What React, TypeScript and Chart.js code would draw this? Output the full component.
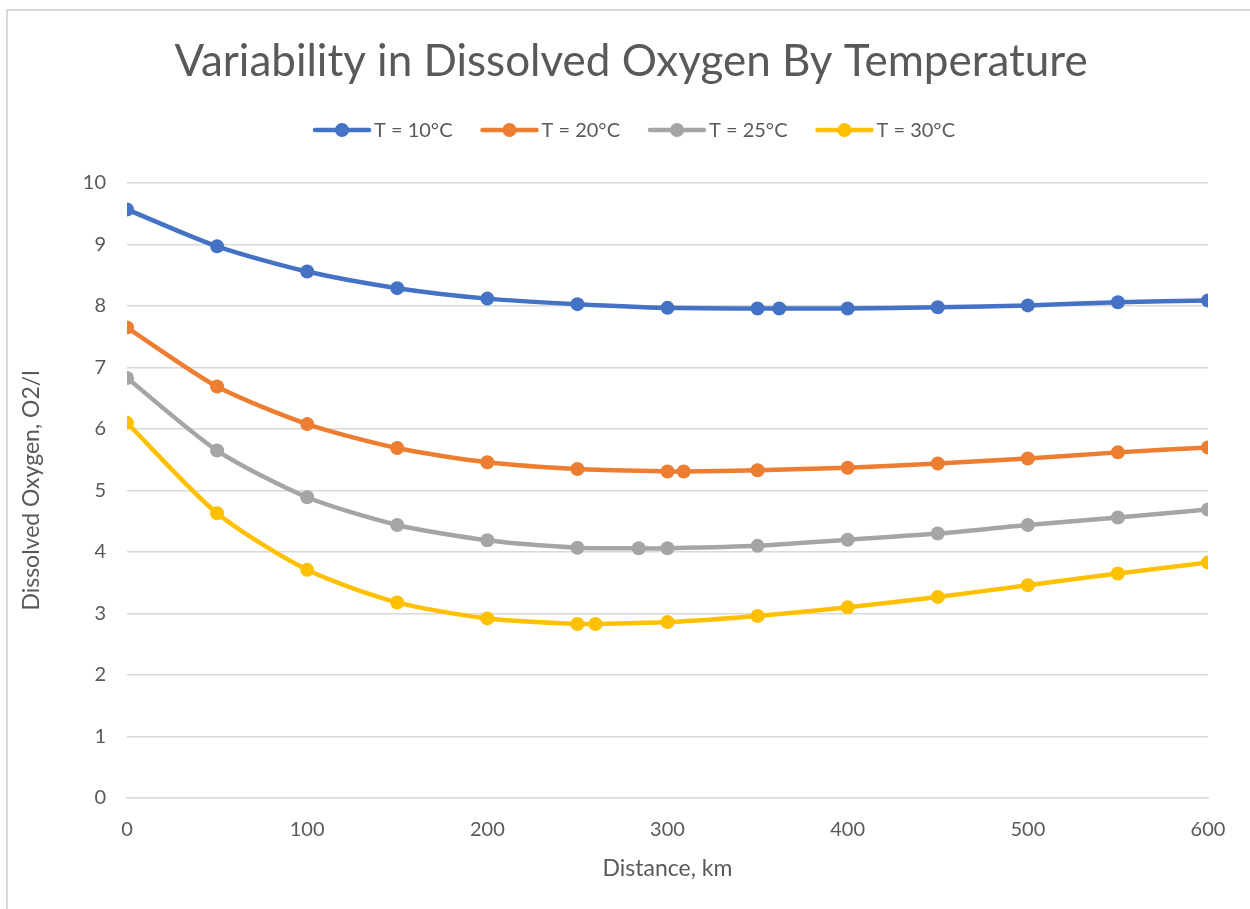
import React, { useEffect, useRef } from "react";
import { Chart, registerables } from "chart.js";

Chart.register(...registerables);

const TITLE = "Variability in Dissolved Oxygen By Temperature";
const X_TITLE = "Distance, km";
const Y_TITLE = "Dissolved Oxygen, O2/l";

const seriesNames = ["T = 10°C", "T = 20°C", "T = 25°C", "T = 30°C"];
const seriesColors = ["#4472C4", "#ED7D31", "#A5A5A5", "#FFC000"];

const dist10 = [0, 50, 100, 150, 200, 250, 300, 350, 362, 400, 450, 500, 550, 600];
const do10 = [9.57, 8.97, 8.56, 8.29, 8.12, 8.03, 7.97, 7.96, 7.96, 7.96, 7.98, 8.01, 8.06, 8.09];

const dist20 = [0, 50, 100, 150, 200, 250, 300, 309, 350, 400, 450, 500, 550, 600];
const do20 = [7.65, 6.69, 6.08, 5.69, 5.46, 5.35, 5.31, 5.31, 5.33, 5.37, 5.44, 5.52, 5.62, 5.7];

const dist25 = [0, 50, 100, 150, 200, 250, 284, 300, 350, 400, 450, 500, 550, 600];
const do25 = [6.83, 5.65, 4.89, 4.44, 4.19, 4.07, 4.06, 4.06, 4.1, 4.2, 4.3, 4.44, 4.56, 4.69];

const dist30 = [0, 50, 100, 150, 200, 250, 260, 300, 350, 400, 450, 500, 550, 600];
const do30 = [6.1, 4.63, 3.71, 3.18, 2.92, 2.83, 2.83, 2.86, 2.96, 3.1, 3.27, 3.46, 3.65, 3.83];

const distances = [dist10, dist20, dist25, dist30];
const values = [do10, do20, do25, do30];

const TEXT = "#595959";
const GRID = "#D9D9D9";
const FONT = "Lato, 'Open Sans', sans-serif";

const decorPlugin = {
  id: "decor",
  beforeDraw(chart: any) {
    const ctx = chart.ctx;
    ctx.save();
    ctx.fillStyle = "#ffffff";
    ctx.fillRect(0, 0, chart.width, chart.height);
    ctx.fillStyle = GRID;
    ctx.fillRect(6, 9, 2, chart.height - 9);
    ctx.fillRect(6, 9, chart.width - 6, 2);
    ctx.restore();
  },
  afterDraw(chart: any) {
    const ctx = chart.ctx;
    ctx.save();
    // title
    ctx.fillStyle = TEXT;
    ctx.font = `44px ${FONT}`;
    ctx.textAlign = "center";
    ctx.textBaseline = "middle";
    ctx.fillText(TITLE, 631, 62);
    // legend
    ctx.font = `20px ${FONT}`;
    const lineLen = 58;
    const gap = 3;
    const itemGap = 28;
    const widths = seriesNames.map((n) => lineLen + gap + ctx.measureText(n).width);
    const total = widths.reduce((a, b) => a + b, 0) + itemGap * (seriesNames.length - 1);
    let x = 634 - total / 2;
    const y = 130;
    seriesNames.forEach((n, i) => {
      ctx.strokeStyle = seriesColors[i];
      ctx.lineWidth = 4.5;
      ctx.lineCap = "round";
      ctx.beginPath();
      ctx.moveTo(x + 2, y);
      ctx.lineTo(x + lineLen - 2, y);
      ctx.stroke();
      ctx.fillStyle = seriesColors[i];
      ctx.beginPath();
      ctx.arc(x + lineLen / 2, y, 7, 0, Math.PI * 2);
      ctx.fill();
      ctx.fillStyle = TEXT;
      ctx.textAlign = "left";
      ctx.fillText(n, x + lineLen + gap, y + 1);
      x += widths[i] + itemGap;
    });
    ctx.restore();
  },
};

export default function App() {
  const ref = useRef<HTMLCanvasElement>(null);
  useEffect(() => {
    if (!ref.current) return;
    const chart = new Chart(ref.current, {
      type: "line",
      data: {
        datasets: seriesNames.map((name, i) => ({
          label: name,
          data: distances[i].map((d, j) => ({ x: d, y: values[i][j] })),
          borderColor: seriesColors[i],
          backgroundColor: seriesColors[i],
          borderWidth: 4.5,
          pointRadius: 7,
          pointHoverRadius: 7,
          pointBorderWidth: 0,
          tension: 0.25,
          fill: false,
        })),
      },
      options: {
        animation: false,
        responsive: false,
        events: [],
        layout: { padding: { top: 183, right: 42, bottom: 0, left: 0 } },
        plugins: {
          legend: { display: false },
          title: { display: false },
          tooltip: { enabled: false },
        },
        scales: {
          x: {
            type: "linear",
            min: 0,
            max: 600,
            ticks: {
              stepSize: 100,
              color: TEXT,
              font: { family: FONT, size: 20 },
              padding: 20,
              maxRotation: 0,
            },
            grid: { display: false, drawTicks: false },
            border: { display: true, color: GRID, width: 1.5 },
            title: {
              display: true,
              text: X_TITLE,
              color: TEXT,
              font: { family: FONT, size: 23 },
              padding: { top: 0, bottom: 27 },
            },
            afterFit(scale: any) {
              scale.height = 909 - 798;
            },
          },
          y: {
            min: 0,
            max: 10,
            ticks: {
              stepSize: 1,
              color: TEXT,
              font: { family: FONT, size: 20 },
              padding: 21,
            },
            grid: { color: GRID, lineWidth: 1.5, drawTicks: false },
            border: { display: false },
            title: {
              display: true,
              text: Y_TITLE,
              color: TEXT,
              font: { family: FONT, size: 23 },
              padding: { top: 18, bottom: 0 },
            },
            afterFit(scale: any) {
              scale.width = 127;
            },
          },
        },
      },
      plugins: [decorPlugin],
    });
    return () => chart.destroy();
  }, []);
  return (
    <div style={{ position: "absolute", left: 0, top: 0, width: 1250, height: 909, overflow: "hidden" }}>
      <canvas ref={ref} width={1250} height={909} style={{ width: 1250, height: 909, display: "block" }} />
    </div>
  );
}
